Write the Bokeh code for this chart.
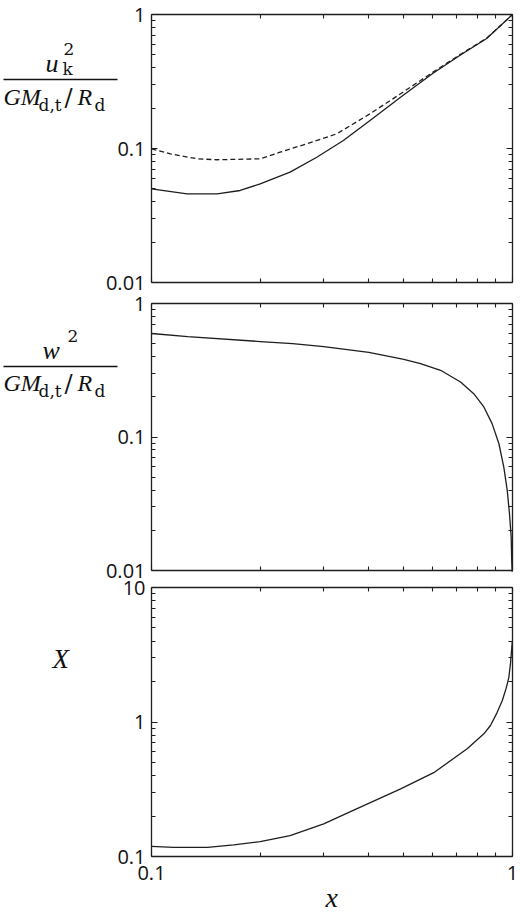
from bokeh.plotting import figure
from bokeh.models import LogAxis, FixedTicker, Range1d, LogScale
from bokeh.core.properties import value
from bokeh.embed import file_html
from bokeh.resources import INLINE

# ---- data ----
x_uk_solid = [0.100, 0.1255, 0.152, 0.176, 0.200, 0.242, 0.287, 0.340, 0.403, 0.497, 0.601, 0.714, 0.848, 1.0]
uk2_solid = [0.050, 0.0459, 0.0459, 0.0486, 0.0545, 0.0666, 0.0861, 0.1148, 0.162, 0.249, 0.363, 0.494, 0.662, 1.0]

x_uk_dash = [0.100, 0.1128, 0.1337, 0.152, 0.200, 0.227, 0.269, 0.326, 0.403, 0.497, 0.601, 0.714, 0.848, 1.0]
uk2_dash = [0.0995, 0.0912, 0.0838, 0.0824, 0.0838, 0.0938, 0.1084, 0.1287, 0.1816, 0.263, 0.37, 0.50, 0.665, 1.0]

x_w = [0.10, 0.126, 0.20, 0.246, 0.30, 0.40, 0.50, 0.556, 0.632, 0.718, 0.781, 0.833, 0.878,
       0.917, 0.946, 0.967, 0.981, 0.9917, 0.995, 0.998]
w2 = [0.596, 0.565, 0.519, 0.50, 0.476, 0.43, 0.381, 0.355, 0.316, 0.258, 0.211, 0.168, 0.126,
      0.089, 0.0595, 0.0398, 0.0266, 0.0177, 0.0119, 0.0098]

x_X = [0.10, 0.115, 0.143, 0.169, 0.20, 0.242, 0.30, 0.362, 0.49, 0.605, 0.749, 0.833, 0.869,
       0.907, 0.937, 0.962, 0.977, 0.987, 0.994, 0.999]
X_vals = [0.119, 0.117, 0.117, 0.122, 0.129, 0.143, 0.175, 0.22, 0.318, 0.42, 0.632, 0.817, 0.942,
          1.18, 1.445, 1.81, 2.15, 2.71, 3.40, 4.0]

x_major = [0.1, 1]
x_labels = ["0.1", "1"]
x_minor = [0.2, 0.3, 0.4, 0.5, 0.6, 0.7, 0.8, 0.9]

y_ab_major = [0.01, 0.1, 1]
y_ab_labels = ["0.01", "0.1", "1"]
y_ab_minor = [0.02, 0.03, 0.04, 0.05, 0.06, 0.07, 0.08, 0.09,
              0.2, 0.3, 0.4, 0.5, 0.6, 0.7, 0.8, 0.9]

y_c_major = [0.1, 1, 10]
y_c_labels = ["0.1", "1", "10"]
y_c_minor = [0.2, 0.3, 0.4, 0.5, 0.6, 0.7, 0.8, 0.9,
             2, 3, 4, 5, 6, 7, 8, 9]

INK = "#1e1e1e"
SANS = "Open Sans"
SERIF_IT = "Liberation Serif"
SERIF_UP = "DejaVu Serif"

# ---- geometry (page pixels) ----
CANVAS_W = 518
CANVAS_H = 917
FRAME_X0 = 151      # pixel of x = 0.1
DEC_X = 361         # pixels per decade along x


def xpos(px):
    return 0.1 * 10 ** ((px - FRAME_X0) / DEC_X)


def ymapper(top_val, top_px, dec_px):
    return lambda py: top_val * 10 ** (-(py - top_px) / dec_px)


# panel vertical mappings: value at top of frame, its pixel, pixels per decade
y1m = ymapper(1, 14, 134)
y2m = ymapper(1, 303, 133.5)
y3m = ymapper(10, 587, 134.5)

p = figure(x_axis_type="log", y_axis_type="log",
           x_axis_location=None, y_axis_location=None,
           x_range=Range1d(xpos(0), xpos(CANVAS_W)),
           y_range=Range1d(y1m(CANVAS_H), y1m(0)),
           frame_width=CANVAS_W, frame_height=CANVAS_H,
           min_border=0, toolbar_location=None, output_backend="svg")
p.extra_y_ranges = {"p2": Range1d(y2m(CANVAS_H), y2m(0)),
                    "p3": Range1d(y3m(CANVAS_H), y3m(0))}
p.extra_y_scales = {"p2": LogScale(), "p3": LogScale()}
p.grid.visible = False
p.outline_line_color = None
p.background_fill_color = "white"
p.border_fill_color = "white"


def make_axis(side, rn, major, minor, loc, bounds, labels=None, standoff=6):
    ax = LogAxis(y_range_name=rn)
    ax.ticker = FixedTicker(ticks=major, minor_ticks=minor)
    ax.fixed_location = loc
    ax.bounds = bounds
    ax.axis_line_color = INK
    ax.axis_line_width = 1.3
    ax.major_tick_line_color = INK
    ax.minor_tick_line_color = INK
    ax.major_tick_line_width = 1.1
    ax.minor_tick_line_width = 1.1
    ax.major_tick_in = 6
    ax.major_tick_out = 0
    ax.minor_tick_in = 4
    ax.minor_tick_out = 0
    if labels is not None:
        ax.major_label_overrides = {v: t for v, t in zip(major, labels)}
        ax.major_label_text_font = SANS
        ax.major_label_text_font_size = "20px"
        ax.major_label_text_color = "#111"
        ax.major_label_standoff = standoff
    else:
        ax.major_label_overrides = {v: "" for v in major}
        ax.major_label_text_font_size = "0px"
        ax.major_label_standoff = 0
    p.add_layout(ax, side)


def panel_axes(rn, ymaj, ymin, ylabels, show_x):
    yb = (ymaj[0], ymaj[-1])
    make_axis("below", rn, x_major, x_minor, ymaj[0], (0.1, 1),
              x_labels if show_x else None, standoff=9)
    make_axis("above", rn, x_major, x_minor, ymaj[-1], (0.1, 1))
    make_axis("left", rn, ymaj, ymin, 0.1, yb, ylabels, standoff=6)
    make_axis("right", rn, ymaj, ymin, 1, yb)


def txt(rn, ym, s, px, py, size, italic=True):
    # py: wanted baseline in page pixels; shifted for the renderer's baseline offset
    p.text(x=[xpos(px)], y=[ym(py - 0.4 * size)], text=[s], y_range_name=rn,
           text_font=value(SERIF_IT if italic else SERIF_UP),
           text_font_size=value(f"{size}px"),
           text_font_style="italic" if italic else "normal",
           text_color="#111", text_baseline="alphabetic", text_align="left")


def frac(rn, ym, bar_py, den_py):
    p.segment(x0=[xpos(3)], y0=[ym(bar_py)], x1=[xpos(117)], y1=[ym(bar_py)],
              y_range_name=rn, line_color="#111", line_width=1.6)
    txt(rn, ym, "GM", 3, den_py, 24)
    txt(rn, ym, "d,t", 38, den_py + 5, 17, italic=False)
    txt(rn, ym, "/", 64, den_py + 1, 24, italic=False)
    txt(rn, ym, "R", 77, den_py, 24)
    txt(rn, ym, "d", 94, den_py + 5, 17, italic=False)


LW = 1.3

# ---- panel 1 : u_k^2 ----
panel_axes("default", y_ab_major, y_ab_minor, y_ab_labels, False)
p.line(x_uk_solid, uk2_solid, line_color=INK, line_width=LW)
p.line(x_uk_dash, uk2_dash, line_color=INK, line_width=LW, line_dash="5 3")
txt("default", y1m, "u", 45, 73, 26)
txt("default", y1m, "k", 62, 75, 17, italic=False)
txt("default", y1m, "2", 63, 55, 17, italic=False)
frac("default", y1m, 79, 106)

# ---- panel 2 : w^2 ----
panel_axes("p2", y_ab_major, y_ab_minor, y_ab_labels, False)
p.line(x_w, w2, y_range_name="p2", line_color=INK, line_width=LW)
txt("p2", y2m, "w", 42, 360, 26)
txt("p2", y2m, "2", 67, 342, 17, italic=False)
frac("p2", y2m, 366, 392)

# ---- panel 3 : X ----
panel_axes("p3", y_c_major, y_c_minor, y_c_labels, True)
p.line(x_X, X_vals, y_range_name="p3", line_color=INK, line_width=LW)
txt("p3", y3m, "X", 52, 669, 27)
txt("p3", y3m, "x", 325, 908, 28)

open("out.html", "w").write(file_html(p, INLINE))
